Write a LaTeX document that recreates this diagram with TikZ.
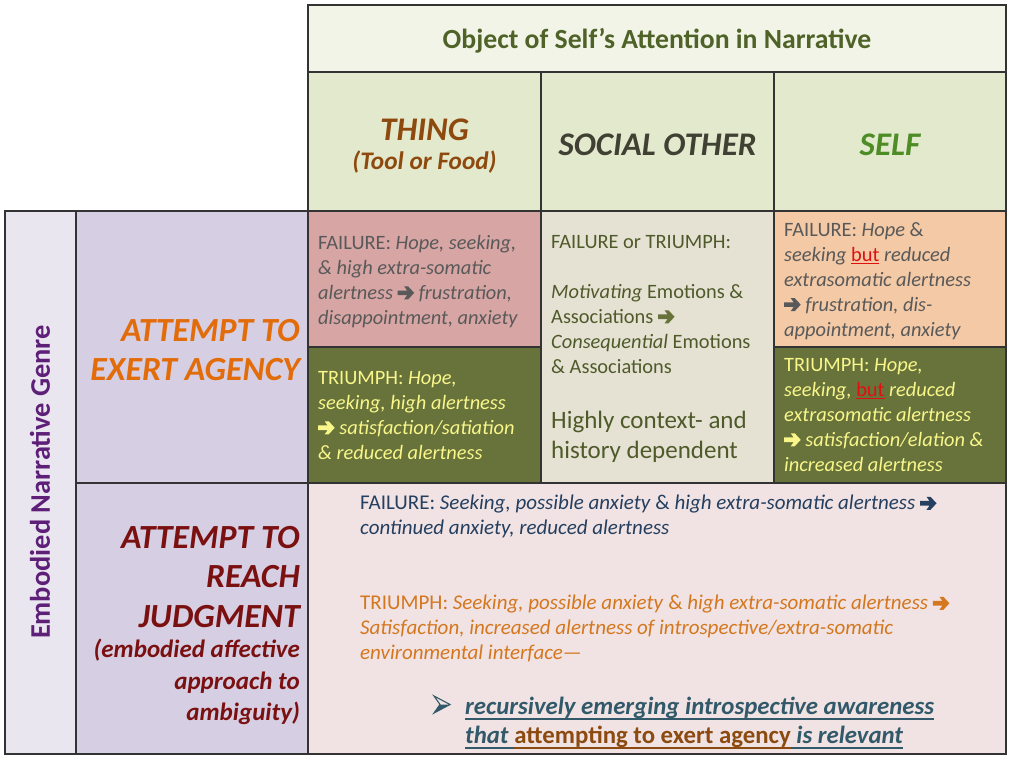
\documentclass[tikz,border=0pt]{standalone}
\usepackage{fontspec}
\setmainfont{Carlito}
\newsavebox\ulbox
\newcommand{\myul}[2][5pt]{\sbox\ulbox{#2}\rlap{\rule[-#1]{\wd\ulbox}{1.2pt}}\usebox\ulbox}
\definecolor{gridc}{HTML}{333333}
\definecolor{tophead}{HTML}{F1F4E6}
\definecolor{colhead}{HTML}{E2E9CD}
\definecolor{thingfail}{HTML}{D6A5A4}
\definecolor{olivecell}{HTML}{67733B}
\definecolor{socialcell}{HTML}{E5E2D3}
\definecolor{selffail}{HTML}{F3C9A6}
\definecolor{rowhead}{HTML}{D6CEE3}
\definecolor{outercol}{HTML}{EAE6F0}
\definecolor{bottomcell}{HTML}{F1E3E3}
\definecolor{titlec}{HTML}{4F6228}
\definecolor{thingc}{HTML}{8E4A0E}
\definecolor{socialc}{HTML}{404033}
\definecolor{selfc}{HTML}{4E8C26}
\definecolor{grayt}{HTML}{595959}
\definecolor{yellowt}{HTML}{F9F68A}
\definecolor{olivet}{HTML}{4F5A2A}
\definecolor{genrec}{HTML}{5E1F78}
\definecolor{agencyc}{HTML}{E36C0A}
\definecolor{judgec}{HTML}{7A1010}
\definecolor{navyt}{HTML}{243F60}
\definecolor{oranget}{HTML}{D4771E}
\definecolor{tealt}{HTML}{31596A}
\definecolor{brownt}{HTML}{8B4A0F}
\definecolor{butred}{HTML}{E01010}
\newcommand{\arr}{\tikz[x=1pt,y=1pt,baseline=0pt]\fill (0,4.2) -- (9.5,4.2) -- (6.5,0) -- (10.5,0) -- (16.5,6.5) -- (10.5,13) -- (6.5,13) -- (9.5,8.8) -- (0,8.8) -- cycle;}
\newcommand{\butword}{{\upshape\color{butred}\myul[3pt]{but}}}
\begin{document}
\begin{tikzpicture}[x=1pt,y=-1pt,
  cell/.style={draw=gridc, line width=1.1pt, anchor=north west, inner sep=0pt, outer sep=0pt},
  txt/.style={anchor=north west, inner sep=0pt, align=left, font=\fontsize{20.4}{25}\selectfont},
  btxt/.style={anchor=north west, inner sep=0pt, align=left, font=\fontsize{21}{25}\selectfont},
  hdr/.style={inner sep=0pt, align=center, font=\bfseries\itshape\fontsize{33}{36}\selectfont},
  rowtxt/.style={anchor=north east, inner sep=0pt, align=right, font=\bfseries\itshape\fontsize{33.8}{39.5}\selectfont}]
\useasboundingbox (0,0) rectangle (1009,757);
% cells
\node[cell, fill=tophead, minimum width=698pt, minimum height=67pt] (top) at (308,5) {};
\node[cell, fill=colhead, minimum width=233pt, minimum height=139pt] (hthing) at (308,72) {};
\node[cell, fill=colhead, minimum width=233pt, minimum height=139pt] (hsocial) at (541,72) {};
\node[cell, fill=colhead, minimum width=232pt, minimum height=139pt] (hself) at (774,72) {};
\node[cell, fill=outercol, minimum width=71pt, minimum height=543pt] (outer) at (5,211) {};
\node[cell, fill=rowhead, minimum width=232pt, minimum height=272pt] (ragency) at (76,211) {};
\node[cell, fill=rowhead, minimum width=232pt, minimum height=271pt] (rjudge) at (76,483) {};
\node[cell, fill=thingfail, minimum width=233pt, minimum height=136pt] (thingf) at (308,211) {};
\node[cell, fill=olivecell, minimum width=233pt, minimum height=136pt] (thingt) at (308,347) {};
\node[cell, fill=socialcell, minimum width=233pt, minimum height=272pt] (social) at (541,211) {};
\node[cell, fill=selffail, minimum width=232pt, minimum height=136pt] (selff) at (774,211) {};
\node[cell, fill=olivecell, minimum width=232pt, minimum height=136pt] (selft) at (774,347) {};
\node[cell, fill=bottomcell, minimum width=698pt, minimum height=271pt] (bottom) at (308,483) {};
% headers
\node[inner sep=0pt, text=titlec, font=\bfseries\fontsize{27.7}{30}\selectfont] (title) at (657,41) {Object of Self’s Attention in Narrative};
\node[hdr, text=thingc] (thingl) at (424.5,130) {THING};
\node[inner sep=0pt, text=thingc, font=\bfseries\itshape\fontsize{25.3}{27}\selectfont] (thingsub) at (424.5,162) {(Tool or Food)};
\node[hdr, text=socialc] (sociall) at (657.5,145) {SOCIAL OTHER};
\node[hdr, text=selfc] (selfl) at (890,145) {SELF};
% left labels
\node[inner sep=0pt, rotate=90, text=genrec, font=\bfseries\fontsize{28.4}{30}\selectfont] (genre) at (40,482) {Embodied Narrative Genre};
\node[rowtxt, text=agencyc] (agencyl) at (300,319) {ATTEMPT TO\\EXERT AGENCY};
\node[rowtxt, text=judgec] (judgel) at (300,526) {ATTEMPT TO\\REACH\\JUDGMENT};
\node[anchor=north east, inner sep=0pt, align=right, text=judgec, font=\bfseries\itshape\fontsize{25}{31.5}\selectfont] (judgesub) at (300,639) {(embodied affective\\approach to\\ambiguity)};
% cell texts
\node[txt, text=grayt] (tf) at (318,235) {FAILURE: \textit{Hope, seeking,}\\\textit{\& high extra-somatic}\\\textit{alertness} \arr{} \textit{frustration,}\\\textit{disappointment, anxiety}};
\node[txt, text=yellowt] (tt) at (318,371) {TRIUMPH: \textit{Hope,}\\\textit{seeking, high alertness}\\\arr{} \textit{satisfaction/satiation}\\\textit{\& reduced alertness}};
\node[txt, text=olivet] (st) at (551,235) {FAILURE or TRIUMPH:\\[25pt]\textit{Motivating} Emotions \&\\Associations {\color{olivecell}\arr}\\\textit{Consequential} Emotions\\\& Associations};
\node[anchor=north west, inner sep=0pt, align=left, text=olivet, font=\fontsize{25}{30}\selectfont] (sh) at (551,411) {Highly context- and\\history dependent};
\node[txt, text=grayt] (sf) at (784,222) {FAILURE: \textit{Hope} \&\\\textit{seeking} \butword{} \textit{reduced}\\\textit{extrasomatic alertness}\\\arr{} \textit{frustration, dis-}\\\textit{appointment, anxiety}};
\node[txt, text=yellowt] (stri) at (784,358) {TRIUMPH: \textit{Hope,}\\\textit{seeking,} \butword{} \textit{reduced}\\\textit{extrasomatic alertness}\\\arr{} \textit{satisfaction/elation \&}\\\textit{increased alertness}};
\node[btxt, text=navyt] (bf) at (360,495) {FAILURE: \textit{Seeking, possible anxiety} \& \textit{high extra-somatic alertness} \arr\\\textit{continued anxiety, reduced alertness}};
\node[btxt, text=oranget] (bt) at (360,595) {TRIUMPH: \textit{Seeking, possible anxiety} \& \textit{high extra-somatic alertness} \arr\\\textit{Satisfaction, increased alertness of introspective/extra-somatic}\\\textit{environmental interface—}};
% bullet arrowhead
\draw[tealt, line width=1.1pt, line join=miter, fill=bottomcell] (434,696) -- (450,704.5) -- (434,713) -- (440,704.5) -- cycle;
\fill[tealt] (440,704.5) -- (450,704.5) -- (434,713) -- cycle;
\node[anchor=north west, inner sep=0pt, align=left, font=\bfseries\fontsize{24.8}{29}\selectfont] (bres) at (465,697) {{\color{tealt}\myul{\textit{recursively emerging introspective awareness}}}\\{\color{tealt}\myul{\textit{that }}}{\color{brownt}\myul{attempting to exert agency}}{\color{tealt}\myul{\textit{ is relevant}}}};
\end{tikzpicture}
\end{document}
